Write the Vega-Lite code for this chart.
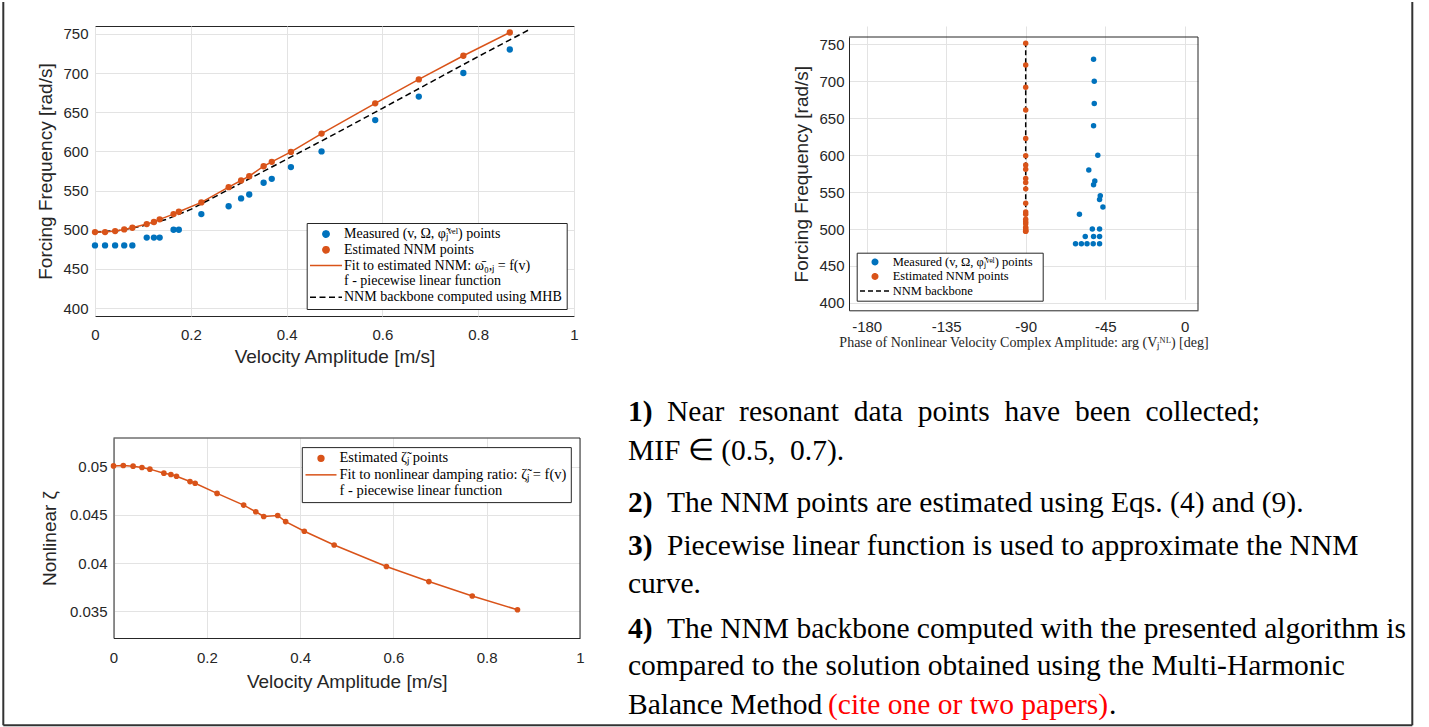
{
  "$schema": "https://vega.github.io/schema/vega-lite/v6.json",
  "background": "#ffffff",
  "padding": {"left": 2, "top": 0, "right": 0, "bottom": 0},
  "bounds": "flush",
  "align": "each",
  "columns": 2,
  "spacing": {"row": 122, "column": 269},
  "resolve": {"scale": {"color": "independent"}, "legend": {"color": "independent"}},
  "datasets": {
    "pts": [
      {"v": 0, "om_meas": 480, "ph_meas": -61.8, "om_nnm": 497.1, "ph_nnm": -90, "zeta": 0.0501},
      {"v": 0.021, "om_meas": 480, "ph_meas": -58.5, "om_nnm": 497.1, "ph_nnm": -90, "zeta": 0.05014},
      {"v": 0.042, "om_meas": 480, "ph_meas": -55.3, "om_nnm": 498.4, "ph_nnm": -90, "zeta": 0.05007},
      {"v": 0.061, "om_meas": 480, "ph_meas": -51.8, "om_nnm": 500.5, "ph_nnm": -90, "zeta": 0.04993},
      {"v": 0.078, "om_meas": 480, "ph_meas": -48.2, "om_nnm": 502.6, "ph_nnm": -90, "zeta": 0.04976},
      {"v": 0.108, "om_meas": 490, "ph_meas": -56.3, "om_nnm": 507.3, "ph_nnm": -90, "zeta": 0.04934},
      {"v": 0.123, "om_meas": 490, "ph_meas": -51.6, "om_nnm": 509.9, "ph_nnm": -90, "zeta": 0.0492},
      {"v": 0.135, "om_meas": 490, "ph_meas": -48.2, "om_nnm": 513.3, "ph_nnm": -90, "zeta": 0.04902},
      {"v": 0.164, "om_meas": 500, "ph_meas": -52.3, "om_nnm": 520.0, "ph_nnm": -90, "zeta": 0.04847},
      {"v": 0.175, "om_meas": 500, "ph_meas": -48.2, "om_nnm": 523.0, "ph_nnm": -90, "zeta": 0.04829},
      {"v": 0.222, "om_meas": 520, "ph_meas": -59.6, "om_nnm": 534.9, "ph_nnm": -90, "zeta": 0.04724},
      {"v": 0.279, "om_meas": 530, "ph_meas": -46.3, "om_nnm": 554.4, "ph_nnm": -90, "zeta": 0.04602},
      {"v": 0.305, "om_meas": 540, "ph_meas": -48.2, "om_nnm": 562.9, "ph_nnm": -90, "zeta": 0.04533},
      {"v": 0.322, "om_meas": 545, "ph_meas": -47.8, "om_nnm": 568.4, "ph_nnm": -90, "zeta": 0.04484},
      {"v": 0.352, "om_meas": 560, "ph_meas": -51.6, "om_nnm": 581.1, "ph_nnm": -90, "zeta": 0.04494},
      {"v": 0.369, "om_meas": 565, "ph_meas": -50.9, "om_nnm": 586.7, "ph_nnm": -90, "zeta": 0.04431},
      {"v": 0.409, "om_meas": 580, "ph_meas": -54.3, "om_nnm": 599.4, "ph_nnm": -90, "zeta": 0.0433},
      {"v": 0.473, "om_meas": 600, "ph_meas": -49.2, "om_nnm": 622.7, "ph_nnm": -90, "zeta": 0.04187},
      {"v": 0.585, "om_meas": 640, "ph_meas": -51.6, "om_nnm": 661.3, "ph_nnm": -90, "zeta": 0.03964},
      {"v": 0.676, "om_meas": 670, "ph_meas": -51.2, "om_nnm": 691.9, "ph_nnm": -90, "zeta": 0.03807},
      {"v": 0.769, "om_meas": 700, "ph_meas": -51.2, "om_nnm": 722.0, "ph_nnm": -90, "zeta": 0.03657},
      {"v": 0.866, "om_meas": 730, "ph_meas": -51.6, "om_nnm": 751.7, "ph_nnm": -90, "zeta": 0.03514}
    ],
    "mhb": [
      {"v": 0, "om": 497},
      {"v": 0.05, "om": 499},
      {"v": 0.1, "om": 505},
      {"v": 0.15, "om": 513.5},
      {"v": 0.2, "om": 526},
      {"v": 0.25, "om": 542},
      {"v": 0.3, "om": 558},
      {"v": 0.35, "om": 574},
      {"v": 0.4, "om": 590},
      {"v": 0.5, "om": 622},
      {"v": 0.6, "om": 655},
      {"v": 0.7, "om": 688},
      {"v": 0.8, "om": 721},
      {"v": 0.907, "om": 755.5}
    ],
    "txt": [
      {"line": 0, "num": "1)", "body": "Near\u2002resonant\u2002data\u2002points\u2002have\u2002been\u2002collected;"},
      {"line": 1, "num": "", "body": "MIF ∈ (0.5,\u20020.7)."},
      {"line": 2.333, "num": "2)", "body": "The NNM points are estimated using Eqs. (4) and (9)."},
      {"line": 3.436, "num": "3)", "body": "Piecewise linear function is used to approximate the NNM"},
      {"line": 4.41, "num": "", "body": "curve."},
      {"line": 5.564, "num": "4)", "body": "The NNM backbone computed with the presented algorithm is"},
      {"line": 6.513, "num": "", "body": "compared to the solution obtained using the Multi-Harmonic"},
      {"line": 7.513, "num": "", "body": "Balance Method", "cite": "(cite one or two papers)", "tail": "."}
    ]
  },
  "concat": [
    {
      "width": 479,
      "height": 290,
      "view": {"stroke": "#262626", "strokeWidth": 1},
      "encoding": {
        "x": {"field": "v", "type": "quantitative", "title": "Velocity Amplitude [m/s]",
          "scale": {"domain": [0, 1], "nice": false, "zero": false},
          "axis": {"values": [0, 0.2, 0.4, 0.6, 0.8, 1], "labelExpr": "datum.value", "domain": false, "labelPadding": 11, "titlePadding": 5}}
      },
      "layer": [
        {
          "data": {"name": "mhb"},
          "mark": {"type": "line", "strokeWidth": 1.5, "strokeDash": [6, 3.5]},
          "encoding": {
            "y": {"field": "om", "type": "quantitative", "title": "Forcing Frequency [rad/s]",
              "scale": {"domain": [390, 760], "nice": false, "zero": false},
              "axis": {"values": [400, 450, 500, 550, 600, 650, 700, 750], "domain": false, "labelPadding": 7, "titlePadding": 7}},
            "color": {"datum": "mhb",
              "scale": {"domain": ["measured", "estimated", "fit", "f", "mhb"], "range": ["#0072BD", "#D95319", "#D95319", "#ffffff", "#000000"]},
              "legend": {
                "orient": "none", "legendX": 211.7, "legendY": 197, "title": null,
                "fillColor": "#ffffff", "strokeColor": "#262626", "padding": 4,
                "symbolSize": 40, "symbolStrokeWidth": 1.5, "symbolOffset": 8.3,
                "labelFont": "Liberation Serif", "labelFontSize": 14, "labelColor": "#000000",
                "labelOffset": 11, "labelLimit": 500, "rowPadding": 1.8,
                "labelExpr": "datum.value == 'measured' ? 'Measured (v,  Ω,  φ̃ⱼᵛᵉˡ) points' : datum.value == 'estimated' ? 'Estimated NNM points' : datum.value == 'fit' ? 'Fit to estimated NNM: ω̄₀,ⱼ = f(v)' : datum.value == 'f' ? 'f - piecewise linear function' : 'NNM backbone computed using MHB'",
                "encode": {"symbols": {"update": {
                  "shape": {"signal": "datum.value == 'fit' || datum.value == 'mhb' ? 'stroke' : 'circle'"},
                  "size": {"signal": "datum.value == 'fit' || datum.value == 'mhb' ? 1024 : 40"},
                  "fill": {"signal": "datum.value == 'measured' ? '#0072BD' : datum.value == 'estimated' ? '#D95319' : 'transparent'"},
                  "stroke": {"signal": "datum.value == 'fit' ? '#D95319' : datum.value == 'mhb' ? '#000000' : 'transparent'"},
                  "strokeDash": {"signal": "datum.value == 'mhb' ? [6, 3.5] : [1, 0]"},
                  "strokeWidth": {"value": 1.5},
                  "opacity": {"value": 1}
                }}}
              }}
          }
        },
        {
          "data": {"name": "pts"},
          "mark": {"type": "line", "strokeWidth": 1.5},
          "encoding": {
            "y": {"field": "om_nnm", "type": "quantitative", "title": "Forcing Frequency [rad/s]", "scale": {"domain": [390, 760], "nice": false, "zero": false}},
            "color": {"datum": "fit"}
          }
        },
        {
          "data": {"name": "pts"},
          "mark": {"type": "point", "filled": true, "size": 40, "opacity": 1},
          "encoding": {
            "y": {"field": "om_meas", "type": "quantitative", "title": "Forcing Frequency [rad/s]", "scale": {"domain": [390, 760], "nice": false, "zero": false}},
            "color": {"datum": "measured"}
          }
        },
        {
          "data": {"name": "pts"},
          "mark": {"type": "point", "filled": true, "size": 40, "opacity": 1},
          "encoding": {
            "y": {"field": "om_nnm", "type": "quantitative", "title": "Forcing Frequency [rad/s]", "scale": {"domain": [390, 760], "nice": false, "zero": false}},
            "color": {"datum": "estimated"}
          }
        }
      ]
    },
    {
      "width": 349,
      "height": 284.3,
      "view": {"stroke": null},
      "layer": [
        {
          "data": {"values": [{}]},
          "mark": {"type": "rule", "color": "#262626", "strokeWidth": 1},
          "encoding": {
            "x": {"datum": -190, "type": "quantitative", "title": "Phase of Nonlinear Velocity Complex Amplitude: arg (Vⱼᴺᴸ) [deg]",
              "scale": {"domain": [-190, 7.5], "nice": false, "zero": false},
              "axis": {"values": [-180, -135, -90, -45, 0], "labelExpr": "datum.value", "labelPadding": 9, "titlePadding": 1, "titleFont": "Liberation Serif", "titleFontSize": 14}},
            "x2": {"datum": 7.5},
            "y": {"datum": 760, "type": "quantitative", "title": "Forcing Frequency [rad/s]",
              "scale": {"domain": [390, 760], "range": [284.3, 11], "nice": false, "zero": false},
              "axis": {"values": [400, 450, 500, 550, 600, 650, 700, 750], "labelPadding": 5, "titlePadding": 7}}
          }
        },
        {
          "data": {"values": [{}]},
          "mark": {"type": "rule", "color": "#262626", "strokeWidth": 1},
          "encoding": {
            "x": {"datum": 7.5, "type": "quantitative", "title": "Phase of Nonlinear Velocity Complex Amplitude: arg (Vⱼᴺᴸ) [deg]"},
            "y": {"datum": 390, "type": "quantitative", "title": "Forcing Frequency [rad/s]"},
            "y2": {"datum": 760}
          }
        },
        {
          "data": {"name": "pts"},
          "mark": {"type": "line", "strokeWidth": 1.5, "strokeDash": [5, 3]},
          "encoding": {
            "x": {"field": "ph_nnm", "type": "quantitative", "title": "Phase of Nonlinear Velocity Complex Amplitude: arg (Vⱼᴺᴸ) [deg]"},
            "y": {"field": "om_nnm", "type": "quantitative", "title": "Forcing Frequency [rad/s]"},
            "order": {"field": "om_nnm", "type": "quantitative"},
            "color": {"datum": "mhb",
              "scale": {"domain": ["measured", "estimated", "mhb"], "range": ["#0072BD", "#D95319", "#000000"]},
              "legend": {
                "orient": "none", "legendX": 7.7, "legendY": 226.7, "title": null,
                "fillColor": "#ffffff", "strokeColor": "#262626", "padding": 3,
                "symbolSize": 30, "symbolStrokeWidth": 1.5, "symbolOffset": 9.05,
                "labelFont": "Liberation Serif", "labelFontSize": 12.5, "labelColor": "#000000",
                "labelOffset": 11.45, "labelLimit": 500, "rowPadding": 1.5,
                "labelExpr": "datum.value == 'measured' ? 'Measured (v,  Ω,  φ̃ⱼᵛᵉˡ) points' : datum.value == 'estimated' ? 'Estimated NNM points' : 'NNM backbone'",
                "encode": {"symbols": {"update": {
                  "shape": {"signal": "datum.value == 'mhb' ? 'stroke' : 'circle'"},
                  "size": {"signal": "datum.value == 'mhb' ? 900 : 30"},
                  "fill": {"signal": "datum.value == 'measured' ? '#0072BD' : datum.value == 'estimated' ? '#D95319' : 'transparent'"},
                  "stroke": {"signal": "datum.value == 'mhb' ? '#000000' : 'transparent'"},
                  "strokeDash": {"signal": "datum.value == 'mhb' ? [5, 3] : [1, 0]"},
                  "strokeWidth": {"value": 1.5},
                  "opacity": {"value": 1}
                }}}
              }}
          }
        },
        {
          "data": {"name": "pts"},
          "mark": {"type": "point", "filled": true, "size": 30, "opacity": 1},
          "encoding": {
            "x": {"field": "ph_meas", "type": "quantitative", "title": "Phase of Nonlinear Velocity Complex Amplitude: arg (Vⱼᴺᴸ) [deg]"},
            "y": {"field": "om_meas", "type": "quantitative", "title": "Forcing Frequency [rad/s]"},
            "color": {"datum": "measured"}
          }
        },
        {
          "data": {"name": "pts"},
          "mark": {"type": "point", "filled": true, "size": 30, "opacity": 1},
          "encoding": {
            "x": {"field": "ph_nnm", "type": "quantitative", "title": "Phase of Nonlinear Velocity Complex Amplitude: arg (Vⱼᴺᴸ) [deg]"},
            "y": {"field": "om_nnm", "type": "quantitative", "title": "Forcing Frequency [rad/s]"},
            "color": {"datum": "estimated"}
          }
        }
      ]
    },
    {
      "width": 485,
      "height": 200,
      "view": {"stroke": null},
      "layer": [
        {
          "data": {"values": [{}]},
          "mark": {"type": "rule", "color": "#262626", "strokeWidth": 1},
          "encoding": {
            "x": {"datum": 0, "type": "quantitative", "title": "Velocity Amplitude [m/s]",
              "scale": {"domain": [0, 1], "range": [18.5, 485], "nice": false, "zero": false},
              "axis": {"values": [0, 0.2, 0.4, 0.6, 0.8, 1], "labelExpr": "datum.value", "labelPadding": 12.5, "titlePadding": 6.5}},
            "x2": {"datum": 1},
            "y": {"datum": 0.053, "type": "quantitative", "title": "Nonlinear ζ",
              "scale": {"domain": [0.0322, 0.053], "nice": false, "zero": false},
              "axis": {"values": [0.035, 0.04, 0.045, 0.05], "labelExpr": "datum.value", "offset": -18.5, "labelPadding": 6.5, "titlePadding": 10}}
          }
        },
        {
          "data": {"values": [{}]},
          "mark": {"type": "rule", "color": "#262626", "strokeWidth": 1},
          "encoding": {
            "x": {"datum": 1, "type": "quantitative", "title": "Velocity Amplitude [m/s]"},
            "y": {"datum": 0.0322, "type": "quantitative", "title": "Nonlinear ζ"},
            "y2": {"datum": 0.053}
          }
        },
        {
          "data": {"name": "pts"},
          "mark": {"type": "line", "strokeWidth": 1.5},
          "encoding": {
            "x": {"field": "v", "type": "quantitative", "title": "Velocity Amplitude [m/s]"},
            "y": {"field": "zeta", "type": "quantitative", "title": "Nonlinear ζ"},
            "color": {"datum": "fit",
              "scale": {"domain": ["estimated", "fit", "f"], "range": ["#D95319", "#D95319", "#ffffff"]},
              "legend": {
                "orient": "none", "legendX": 206.8, "legendY": 9.1, "title": null,
                "fillColor": "#ffffff", "strokeColor": "#262626", "padding": 4,
                "symbolSize": 34, "symbolStrokeWidth": 1.5, "symbolOffset": 7.95,
                "labelFont": "Liberation Serif", "labelFontSize": 14.5, "labelColor": "#000000",
                "labelOffset": 11.25, "labelLimit": 500, "rowPadding": 1.5,
                "labelExpr": "datum.value == 'estimated' ? 'Estimated ζ̃ⱼ points' : datum.value == 'fit' ? 'Fit to nonlinear damping ratio: ζ̃ⱼ = f(v)' : 'f - piecewise linear function'",
                "encode": {"symbols": {"update": {
                  "shape": {"signal": "datum.value == 'fit' ? 'stroke' : 'circle'"},
                  "size": {"signal": "datum.value == 'fit' ? 961 : 34"},
                  "fill": {"signal": "datum.value == 'estimated' ? '#D95319' : 'transparent'"},
                  "stroke": {"signal": "datum.value == 'fit' ? '#D95319' : 'transparent'"},
                  "strokeWidth": {"value": 1.5},
                  "opacity": {"value": 1}
                }}}
              }}
          }
        },
        {
          "data": {"name": "pts"},
          "mark": {"type": "point", "filled": true, "size": 32, "opacity": 1},
          "encoding": {
            "x": {"field": "v", "type": "quantitative", "title": "Velocity Amplitude [m/s]"},
            "y": {"field": "zeta", "type": "quantitative", "title": "Nonlinear ζ"},
            "color": {"datum": "estimated"}
          }
        }
      ]
    },
    {
      "width": 564,
      "height": 200,
      "view": {"stroke": null},
      "layer": [
        {
          "data": {"values": [{}]},
          "mark": {"type": "rule", "color": "#333333", "strokeWidth": 2},
          "encoding": {
            "x": {"datum": -624.7, "type": "quantitative", "scale": {"domain": [221, 785], "nice": false, "zero": false}, "axis": null},
            "y": {"datum": -10.744, "type": "quantitative", "scale": {"domain": [0.436, 5.564], "reverse": true, "nice": false, "zero": false}, "axis": null},
            "y2": {"datum": 7.803}
          }
        },
        {
          "data": {"values": [{}]},
          "mark": {"type": "rule", "color": "#333333", "strokeWidth": 2},
          "encoding": {
            "x": {"datum": 784.3, "type": "quantitative"},
            "y": {"datum": -10.744, "type": "quantitative"},
            "y2": {"datum": 7.803}
          }
        },
        {
          "data": {"values": [{}]},
          "mark": {"type": "rule", "color": "#333333", "strokeWidth": 2},
          "encoding": {
            "x": {"datum": -624.7, "type": "quantitative"},
            "x2": {"datum": 784.3},
            "y": {"datum": 7.803, "type": "quantitative"}
          }
        },
        {
          "data": {"name": "txt"},
          "transform": [{"filter": "datum.num != ''"}],
          "mark": {"type": "text", "align": "left", "baseline": "alphabetic", "font": "Liberation Serif", "fontSize": 29.5, "fontWeight": "bold", "color": "#000000"},
          "encoding": {
            "x": {"datum": 0, "type": "quantitative"},
            "y": {"field": "line", "type": "quantitative"},
            "text": {"field": "num"}
          }
        },
        {
          "data": {"name": "txt"},
          "transform": [{"filter": "datum.num != ''"}],
          "mark": {"type": "text", "align": "left", "baseline": "alphabetic", "font": "Liberation Serif", "fontSize": 29.5, "dx": 39, "color": "#000000"},
          "encoding": {
            "x": {"datum": 0, "type": "quantitative"},
            "y": {"field": "line", "type": "quantitative"},
            "text": {"field": "body"}
          }
        },
        {
          "data": {"name": "txt"},
          "transform": [{"filter": "datum.num == ''"}],
          "mark": {"type": "text", "align": "left", "baseline": "alphabetic", "font": "Liberation Serif", "fontSize": 29.5, "color": "#000000"},
          "encoding": {
            "x": {"datum": 0, "type": "quantitative"},
            "y": {"field": "line", "type": "quantitative"},
            "text": {"field": "body"}
          }
        },
        {
          "data": {"name": "txt"},
          "transform": [{"filter": "datum.cite != null"}],
          "mark": {"type": "text", "align": "left", "baseline": "alphabetic", "font": "Liberation Serif", "fontSize": 29.5, "dx": 200, "color": "#ff0000"},
          "encoding": {
            "x": {"datum": 0, "type": "quantitative"},
            "y": {"field": "line", "type": "quantitative"},
            "text": {"field": "cite"}
          }
        },
        {
          "data": {"name": "txt"},
          "transform": [{"filter": "datum.tail != null"}],
          "mark": {"type": "text", "align": "left", "baseline": "alphabetic", "font": "Liberation Serif", "fontSize": 29.5, "dx": 481, "color": "#000000"},
          "encoding": {
            "x": {"datum": 0, "type": "quantitative"},
            "y": {"field": "line", "type": "quantitative"},
            "text": {"field": "tail"}
          }
        }
      ]
    }
  ],
  "config": {
    "font": "Liberation Sans",
    "axis": {
      "labelFont": "Liberation Sans", "labelFontSize": 15, "labelColor": "#262626",
      "titleFont": "Liberation Sans", "titleFontSize": 19, "titleFontWeight": "normal", "titleColor": "#262626",
      "grid": true, "gridColor": "#e3e3e3", "gridWidth": 1,
      "ticks": false, "tickSize": 0,
      "domainColor": "#262626", "domainWidth": 1,
      "labelFlush": false, "labelOverlap": false
    },
    "legend": {"labelLimit": 500}
  }
}
